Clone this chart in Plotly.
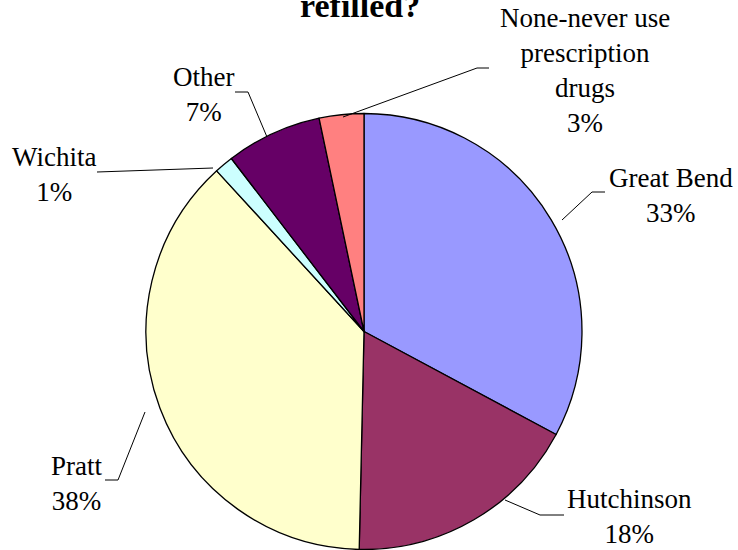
import plotly.graph_objects as go

# Data
categories = ["Great Bend", "Hutchinson", "Pratt", "Wichita", "Other", "None-never use<br>prescription<br>drugs"]
values = [32.8, 17.5, 37.8, 1.4, 7.1, 3.3]
colors = ["#9999FF", "#993366", "#FFFFCC", "#CCFFFF", "#660066", "#FF8080"]

W, H = 738, 550
FONT = "Liberation Serif, Times New Roman, serif"


def px(x):
    return x / W


def py(y):
    return 1 - y / H


fig = go.Figure()

# pie geometry (pixels)
cx, cy, r = 364, 331.5, 218
fig.add_trace(go.Pie(
    labels=categories,
    values=values,
    sort=False,
    direction="clockwise",
    rotation=0,
    marker=dict(colors=colors, line=dict(color="black", width=1.3)),
    textinfo="none",
    hoverinfo="label+percent",
    showlegend=False,
    domain=dict(x=[px(cx - r), px(cx + r)], y=[py(cy + r), py(cy - r)]),
))

total = sum(values)
pct_text = [f"{round(v / total * 100)}%" for v in values]

# label positions (pixel centers)
label_pos = [(671, 195.5), (629, 516.5), (76, 483.5), (54, 175), (203, 94.5), (585, 70.5)]

annotations = []
for cat, pct, (lx, ly) in zip(categories, pct_text, label_pos):
    annotations.append(dict(
        x=px(lx), y=py(ly), xref="paper", yref="paper",
        text=f"{cat}<br>{pct}", showarrow=False,
        xanchor="center", yanchor="middle", align="center",
        font=dict(family=FONT, size=27, color="black"),
    ))

# title (top cut off, as in the original)
annotations.append(dict(
    x=px(360), y=py(6), xref="paper", yref="paper",
    text="<b>refilled?</b>", showarrow=False,
    xanchor="center", yanchor="middle",
    font=dict(family=FONT, size=34, color="black"),
))

# leader lines (pixel polylines)
leaders = [
    [(562, 220), (592, 192), (605, 192)],
    [(505, 500), (540, 515), (564, 515)],
    [(145, 412), (118, 480), (105, 480)],
    [(213, 168), (97, 172)],
    [(267, 137), (248, 92), (235, 92)],
    [(343, 117), (477, 68), (489, 68)],
]
shapes = []
for pts in leaders:
    path = "M " + " L ".join(f"{px(x)},{py(y)}" for x, y in pts)
    shapes.append(dict(type="path", xref="paper", yref="paper", path=path,
                       line=dict(color="black", width=1)))

fig.update_layout(
    width=W, height=H,
    margin=dict(l=0, r=0, t=0, b=0),
    paper_bgcolor="white", plot_bgcolor="white",
    annotations=annotations,
    shapes=shapes,
)

fig.write_html("out.html", config={"displayModeBar": False},
               post_script="document.body.style.margin='0';")
